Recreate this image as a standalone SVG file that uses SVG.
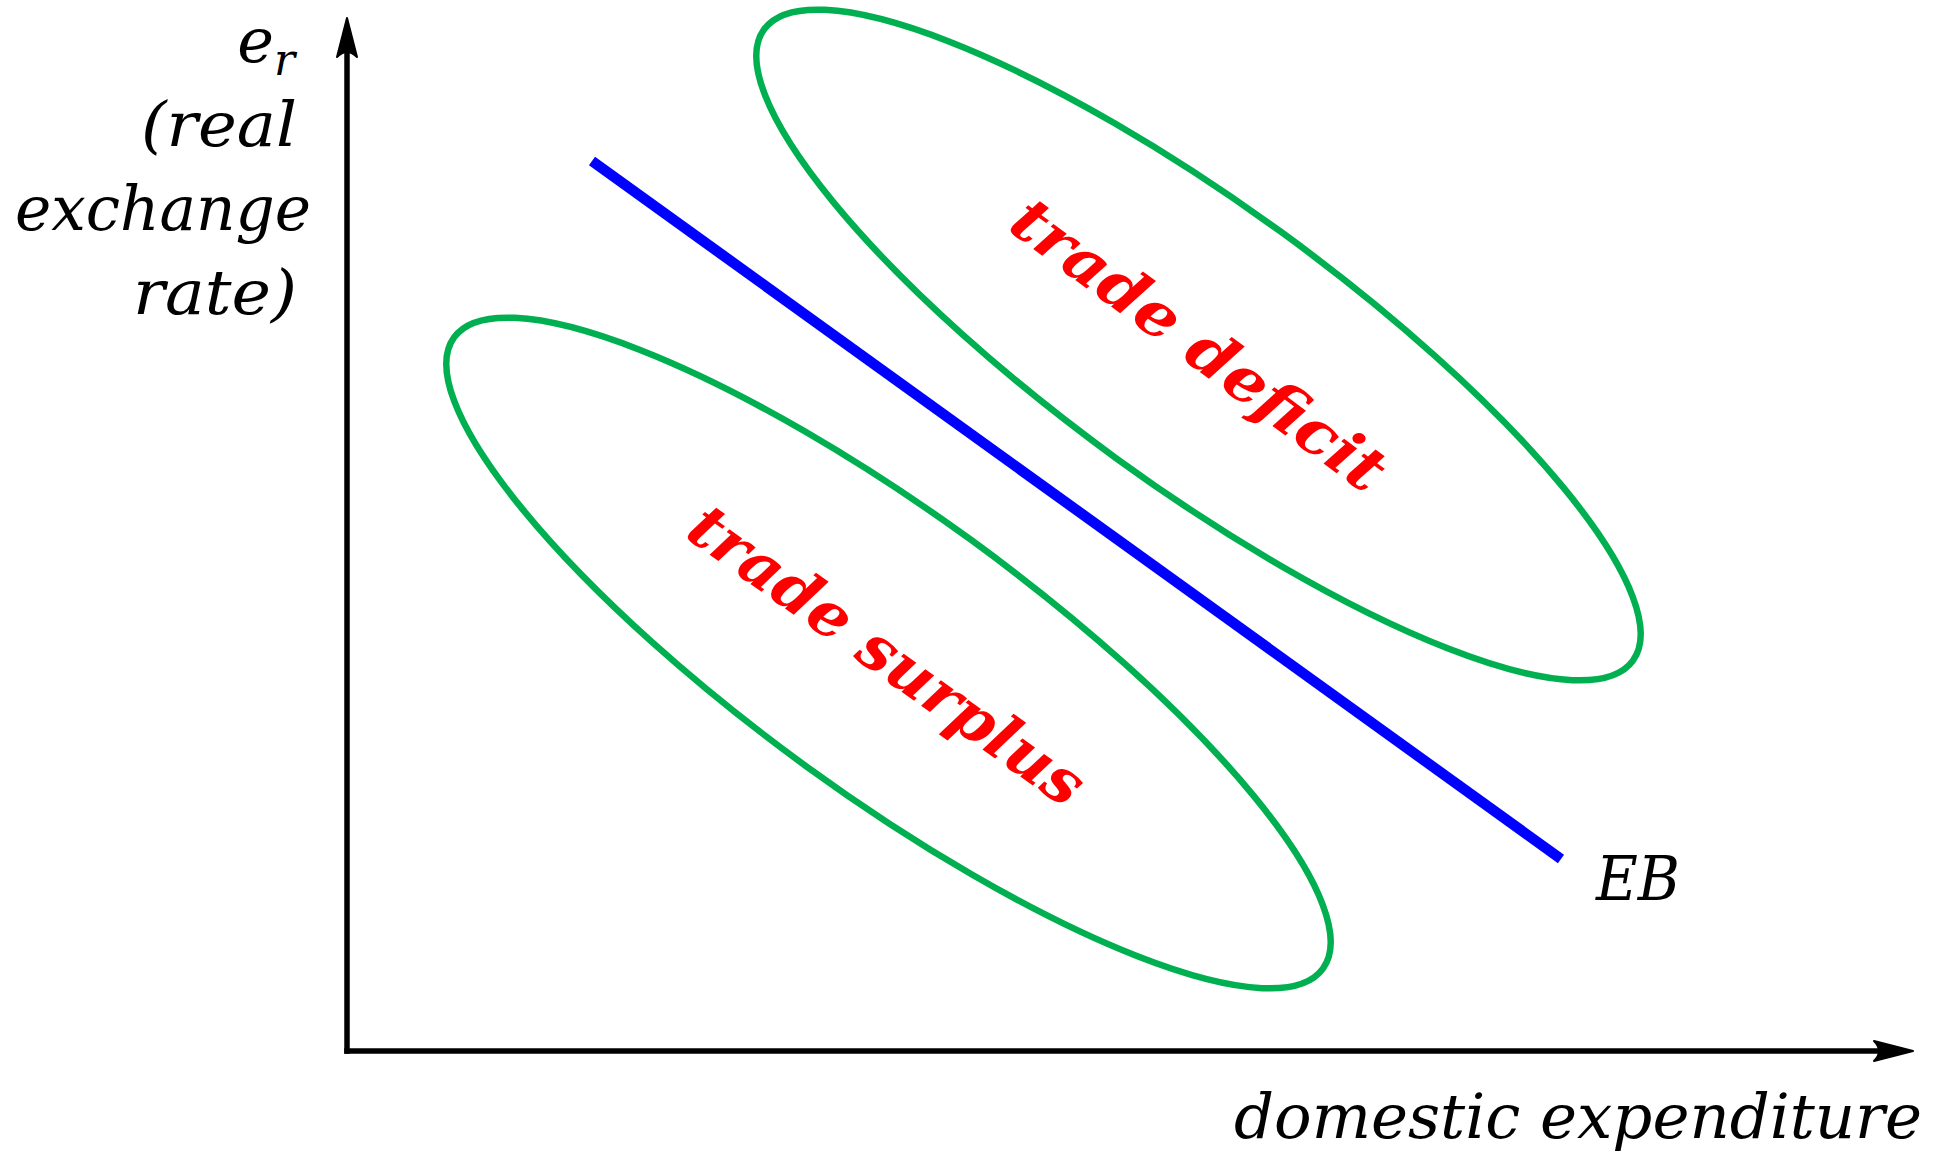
<svg xmlns="http://www.w3.org/2000/svg" width="1939" height="1154" viewBox="0 0 1939 1154">
  <style>
    .lbl { font-family: "DejaVu Serif", "Liberation Serif", serif; font-style: italic; font-size: 62px; fill: #000000; }
    .region { font-family: "DejaVu Serif", "Liberation Serif", serif; font-style: italic; font-weight: bold; font-size: 62px; fill: #FF0000; text-anchor: middle; }
    .zone { fill: none; stroke: #00B050; stroke-width: 6.5; }
    .axis { fill: none; stroke: #000000; stroke-width: 5.5; }
  </style>
  <defs>
    <marker id="arrow" markerUnits="userSpaceOnUse" markerWidth="50" markerHeight="30" refX="10" refY="10" orient="auto" overflow="visible">
      <path d="M0,0 L39,10 L0,20 Q10,10 0,0 Z" fill="#000000" stroke="#000000" stroke-width="2" stroke-linejoin="round"/>
    </marker>
  </defs>
  <rect x="0" y="0" width="1939" height="1154" fill="#FFFFFF"/>

  <g id="connectors">
    <line id="y-axis" class="axis" x1="347" y1="1053.75" x2="347" y2="47" marker-end="url(#arrow)"/>
    <line id="x-axis" class="axis" x1="344.25" y1="1051" x2="1884" y2="1051" marker-end="url(#arrow)"/>
  </g>

  <g id="trade-deficit">
    <ellipse class="zone" cx="0" cy="0" rx="537" ry="140" transform="translate(1198.5,345) rotate(36)"/>
    <text class="region" x="0" y="21" textLength="448" lengthAdjust="spacingAndGlyphs" transform="translate(1198.5,345) rotate(36.5)">trade deficit</text>
  </g>

  <g id="trade-surplus">
    <ellipse class="zone" cx="0" cy="0" rx="537" ry="140" transform="translate(888.5,653) rotate(36)"/>
    <text class="region" x="0" y="24" textLength="470" lengthAdjust="spacingAndGlyphs" transform="translate(888.5,653) rotate(35.5)">trade surplus</text>
  </g>

  <g id="eb-line">
    <line x1="592" y1="161" x2="1561" y2="859" stroke="#0000FF" stroke-width="10.5"/>
    <text class="lbl" x="1596" y="900" textLength="84" lengthAdjust="spacingAndGlyphs">EB</text>
  </g>

  <g id="y-label">
    <text class="lbl" x="295" y="62" text-anchor="end">e<tspan font-size="44" dy="13">r</tspan></text>
    <text class="lbl" x="297" y="146" text-anchor="end" textLength="156" lengthAdjust="spacingAndGlyphs">(real</text>
    <text class="lbl" x="311" y="230" text-anchor="end" textLength="296" lengthAdjust="spacingAndGlyphs">exchange</text>
    <text class="lbl" x="297" y="314" text-anchor="end" textLength="164" lengthAdjust="spacingAndGlyphs">rate)</text>
  </g>

  <g id="x-label">
    <text class="lbl" x="1234" y="1138" textLength="688" lengthAdjust="spacingAndGlyphs">domestic expenditure</text>
  </g>
</svg>
